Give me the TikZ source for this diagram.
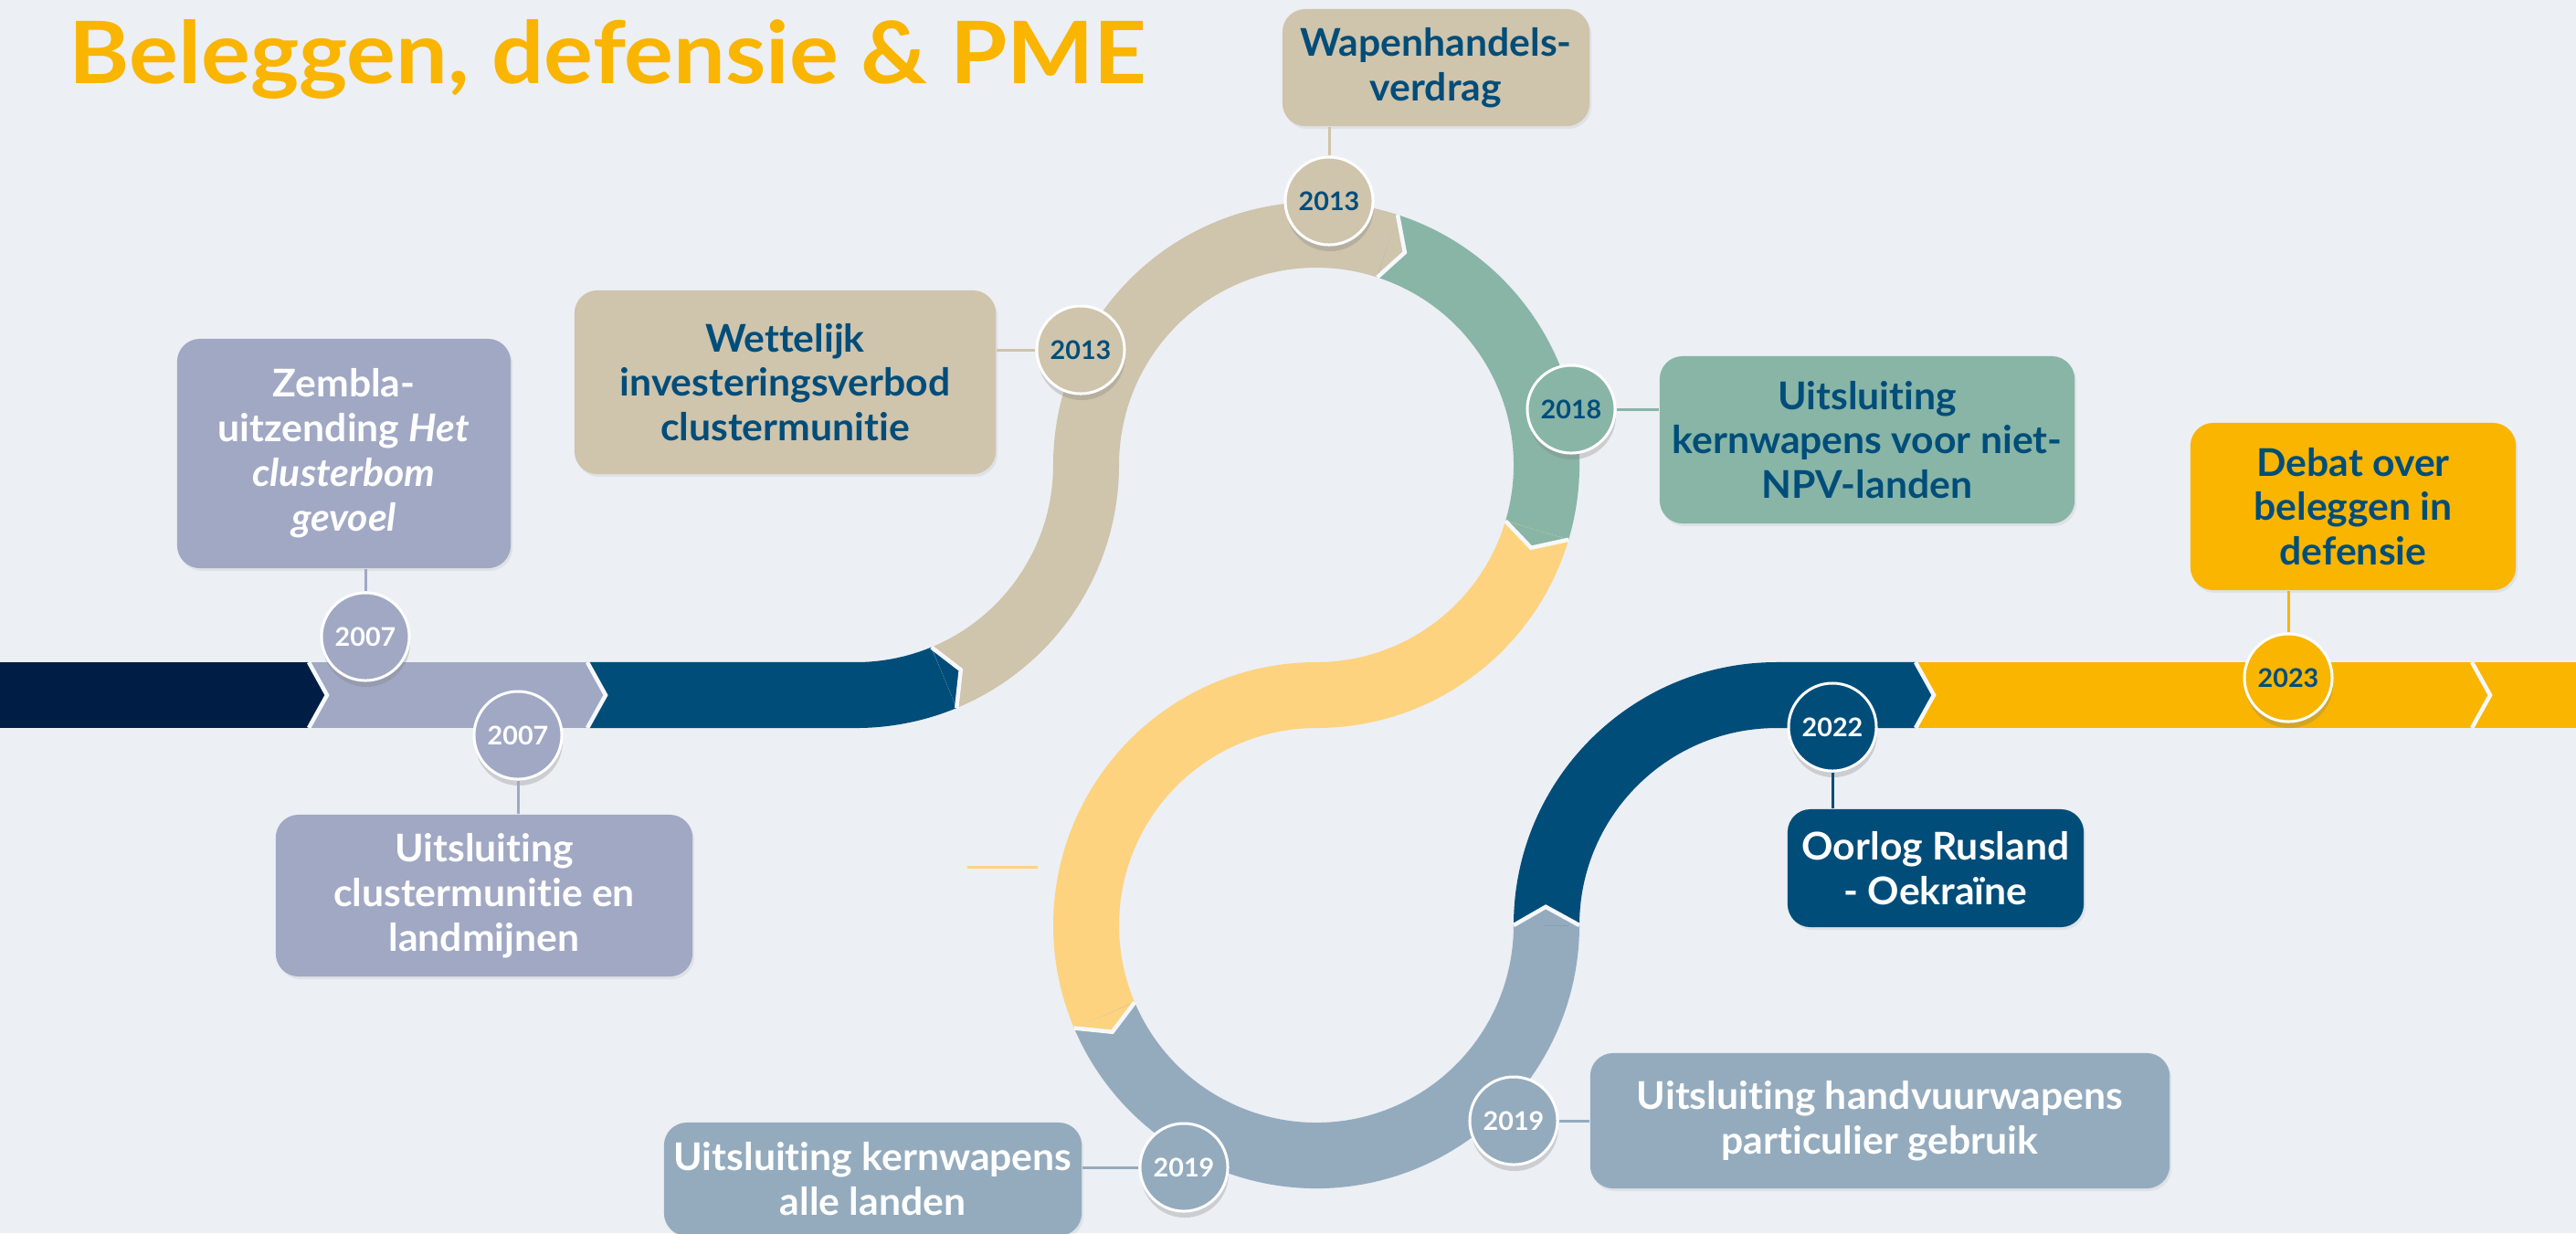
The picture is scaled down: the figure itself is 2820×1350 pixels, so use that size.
\documentclass[tikz,border=0pt]{standalone}
\usepackage{fontspec}
\setmainfont{Lato}[Ligatures=NoCommon, FakeStretch=1.02]
\newfontfamily\pmetitleface{Lato}[Ligatures=NoCommon, FakeStretch=1.07]
\usetikzlibrary{shadows}

\definecolor{pagebg}{HTML}{ECEFF4}
\definecolor{seamcol}{HTML}{F6F8FB}
\definecolor{pmenavy}{HTML}{001E45}
\definecolor{pmelav}{HTML}{A0A8C4}
\definecolor{pmeblue}{HTML}{004D7A}
\definecolor{pmetan}{HTML}{CFC4AC}
\definecolor{pmeteal}{HTML}{88B5A6}
\definecolor{pmesand}{HTML}{FDD37F}
\definecolor{pmegrey}{HTML}{94ABBE}
\definecolor{pmegold}{HTML}{F9B500}

\newcommand{\pmeboxfont}{\fontsize{11.9pt}{13.9pt}\selectfont\bfseries}
\newcommand{\pmeyearfont}{\fontsize{8pt}{9pt}\selectfont\bfseries}
\newcommand{\pmetitlefont}{\pmetitleface\fontsize{26.8pt}{30pt}\selectfont\bfseries}

\begin{document}
\begin{tikzpicture}[x=0.01cm,y=-0.01cm,
  band/.style={line width=0.72cm},
  seam/.style={seamcol, line width=0.045cm},
  yearbadge/.style={circle, minimum size=0.96cm, inner sep=0pt, draw=white,
    line width=0.03cm, font=\pmeyearfont,
    drop shadow={shadow xshift=0.01cm, shadow yshift=-0.07cm, opacity=0.3}},
  eventbox/.style={rounded corners=0.25cm, inner sep=0pt, align=center,
    font=\pmeboxfont,
    drop shadow={shadow xshift=0.02cm, shadow yshift=-0.03cm, opacity=0.12}},
  link/.style={line width=0.03cm}]

\useasboundingbox (0,0) rectangle (2820,1350);
\clip (0,0) rectangle (2820,1350);
\fill[pagebg] (0,0) rectangle (2820,1350);

\node[anchor=base west, inner sep=0pt, font=\pmetitlefont, text=pmegold] (title) at (75,91) {Beleggen, defensie \& PME};

% centres of the bends
\coordinate (cb) at (937,509);
\coordinate (cu) at (1441,509);
\coordinate (cl) at (1441,1013);
\coordinate (ce) at (1945,1013);

% the band, piece by piece
\draw[band, pmenavy] (0,761) -- (338,761);
\draw[band, pmelav] (338,761) -- (643,761);
\draw[band, pmeblue] (643,761) -- (937,761) arc[start angle=90, end angle=67.5, radius=252];
\draw[band, pmetan] ([shift={(cb)}]67.5:252) arc[start angle=67.5, end angle=0, radius=252]
  arc[start angle=180, end angle=288, radius=252];
\draw[band, pmeteal] ([shift={(cu)}]288:252) arc[start angle=288, end angle=376.5, radius=252];
\draw[band, pmesand] ([shift={(cu)}]16.5:252) arc[start angle=16.5, end angle=90, radius=252]
  arc[start angle=270, end angle=157, radius=252];
\draw[band, pmegrey] ([shift={(cl)}]157:252) arc[start angle=157, end angle=0, radius=252];
\draw[band, pmeblue] ([shift={(ce)}]180:252) arc[start angle=180, end angle=270, radius=252] -- (2097,761);
\draw[band, pmegold] (2097,761) -- (2706,761);
\draw[band, pmegold] (2706,761) -- (2820,761);

% chevrons
\foreach \x/\col in {338/pmenavy, 643/pmelav, 2097/pmeblue, 2706/pmegold} {
  \fill[\col] (\x,725) -- (\x+20,761) -- (\x,797) -- cycle;
  \draw[seam] (\x,725) -- (\x+20,761) -- (\x,797);
}
\foreach \c/\a/\t/\col in {cb/67.5/62.9/pmeblue, cu/288/292.6/pmetan, cu/16.5/21.1/pmeteal,
    cl/157/152.4/pmesand, cl/0/-4.6/pmegrey} {
  \fill[\col] ([shift={(\c)}]\a:288) -- ([shift={(\c)}]\t:252) -- ([shift={(\c)}]\a:216) -- cycle;
  \draw[seam] ([shift={(\c)}]\a:288) -- ([shift={(\c)}]\t:252) -- ([shift={(\c)}]\a:216);
}

% events
\node[eventbox, fill=pmelav, text=white, minimum width=3.65cm, minimum height=2.51cm] (zembla) at (376.5,496.5)
  {Zembla-\\uitzending \textit{Het}\\\textit{clusterbom}\\\textit{gevoel}};
\node[eventbox, fill=pmelav, text=white, minimum width=4.56cm, minimum height=1.77cm] (cluster) at (530,980.5)
  {Uitsluiting\\clustermunitie en\\landmijnen};
\node[eventbox, fill=pmetan, text=pmeblue, minimum width=4.61cm, minimum height=2.01cm] (verbod) at (859.5,418.5)
  {Wettelijk\\investeringsverbod\\clustermunitie};
\node[eventbox, fill=pmetan, text=pmeblue, minimum width=3.36cm, minimum height=1.28cm] (verdrag) at (1572,74)
  {Wapenhandels-\\verdrag};
\node[eventbox, fill=pmeteal, text=pmeblue, minimum width=4.54cm, minimum height=1.83cm] (npv) at (2044,481.5)
  {Uitsluiting\\kernwapens voor niet-\\NPV-landen};
\node[eventbox, fill=pmegold, text=pmeblue, minimum width=3.56cm, minimum height=1.83cm] (debat) at (2576,554.5)
  {Debat over\\beleggen in\\defensie};
\node[eventbox, fill=pmeblue, text=white, minimum width=3.24cm, minimum height=1.29cm] (oorlog) at (2119,950.5)
  {Oorlog Rusland\\- Oekraïne};
\node[eventbox, fill=pmegrey, text=white, minimum width=6.34cm, minimum height=1.48cm] (vuur) at (2058,1227)
  {Uitsluiting handvuurwapens\\particulier gebruik};
\node[eventbox, fill=pmegrey, text=white, minimum width=4.57cm, minimum height=1.24cm] (kern) at (955.5,1291)
  {Uitsluiting kernwapens\\alle landen};

% years
\node[yearbadge, fill=pmelav, text=white] (y07a) at (400,697) {2007};
\node[yearbadge, fill=pmelav, text=white] (y07b) at (567,805) {2007};
\node[yearbadge, fill=pmetan, text=pmeblue] (y13a) at (1183,383) {2013};
\node[yearbadge, fill=pmetan, text=pmeblue] (y13b) at (1455,220) {2013};
\node[yearbadge, fill=pmeteal, text=pmeblue] (y18) at (1720,448) {2018};
\node[yearbadge, fill=pmegrey, text=white] (y19a) at (1296,1278) {2019};
\node[yearbadge, fill=pmegrey, text=white] (y19b) at (1657,1227) {2019};
\node[yearbadge, fill=pmeblue, text=white] (y22) at (2006,796) {2022};
\node[yearbadge, fill=pmegold, text=pmeblue] (y23) at (2505,742) {2023};

% links
\draw[link, pmelav] (y07a.north) -- (y07a.north |- zembla.south);
\draw[link, pmelav] (y07b.south) -- (y07b.south |- cluster.north);
\draw[link, pmetan] (y13a.west) -- (y13a.west -| verbod.east);
\draw[link, pmetan] (y13b.north) -- (y13b.north |- verdrag.south);
\draw[link, pmeteal] (y18.east) -- (y18.east -| npv.west);
\draw[link, pmegrey] (y19a.west) -- (y19a.west -| kern.east);
\draw[link, pmegrey] (y19b.east) -- (y19b.east -| vuur.west);
\draw[link, pmeblue] (y22.south) -- (y22.south |- oorlog.north);
\draw[link, pmegold] (y23.north) -- (y23.north |- debat.south);
\coordinate (stubl) at (1059,949);
\coordinate (stubr) at (1136,949);
\draw[link, pmesand] (stubl) -- (stubr);
\end{tikzpicture}
\end{document}
